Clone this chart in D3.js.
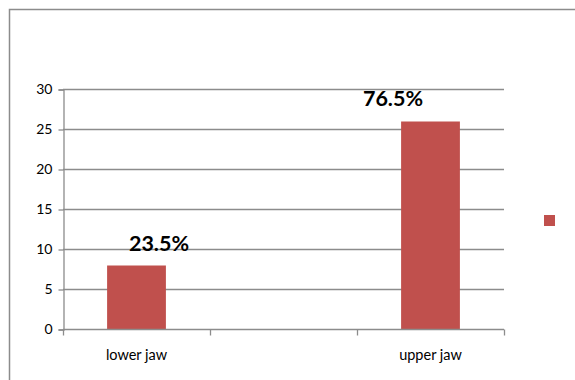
<!DOCTYPE html>
<html><head><meta charset="utf-8">
<script src="https://cdn.jsdelivr.net/npm/d3@7"></script>
<style>body{margin:0;background:#fff}svg{display:block}</style>
</head><body>
<svg id="c" width="575" height="380"></svg>
<script>
const categories = ["lower jaw", "", "upper jaw"];
const values = [8, null, 26];
const labels = ["23.5%", "", "76.5%"];
const yTicks = [0, 5, 10, 15, 20, 25, 30];

const svg = d3.select("#c");
const font = "Lato, 'Open Sans', sans-serif";
const grid = "#8c8c8c";
const barColor = "#C0504D";

// outer border
svg.append("rect").attr("x", 9.5).attr("y", 9.5).attr("width", 600).attr("height", 400)
  .attr("fill", "none").attr("stroke", grid).attr("stroke-width", 1.5);

const x = d3.scaleBand().domain(d3.range(categories.length)).range([63, 504]).paddingInner(0).paddingOuter(0);
const y = d3.scaleLinear().domain([0, 30]).range([329.5, 89.5]);

// gridlines
svg.append("g").selectAll("line").data(yTicks.filter(d => d > 0)).join("line")
  .attr("x1", 63).attr("x2", 504).attr("y1", d => y(d)).attr("y2", d => y(d))
  .attr("stroke", grid).attr("stroke-width", 1.3);

// y axis
const ya = svg.append("g").attr("transform", "translate(63.5,0)")
  .call(d3.axisLeft(y).tickValues(yTicks).tickSize(5).tickPadding(6).tickFormat(d3.format("d")));
ya.select(".domain").attr("stroke", grid).attr("stroke-width", 1.3);
ya.selectAll(".tick line").attr("stroke", grid).attr("stroke-width", 1.3);
ya.selectAll("text").attr("font-family", font).attr("font-size", 14).attr("fill", "#000");

// bars
const bw = x.bandwidth() * 0.4;
svg.append("g").selectAll("rect").data(values.map((v, i) => ({v, i})).filter(d => d.v != null)).join("rect")
  .attr("x", d => x(d.i) + (x.bandwidth() - bw) / 2).attr("width", bw)
  .attr("y", d => y(d.v)).attr("height", d => y(0) - y(d.v))
  .attr("fill", barColor);

// x axis
const xa = svg.append("g").attr("transform", "translate(0,329.5)");
xa.append("line").attr("x1", 63).attr("x2", 504).attr("stroke", grid).attr("stroke-width", 1.3);
const bounds = d3.range(categories.length + 1).map(i => i < categories.length ? x(i) : x(i - 1) + x.bandwidth());
xa.selectAll(".tk").data(bounds).join("line").attr("class", "tk")
  .attr("x1", d => d + 0.5).attr("x2", d => d + 0.5).attr("y1", 0).attr("y2", 6)
  .attr("stroke", grid).attr("stroke-width", 1.3);
xa.selectAll("text").data(categories.map((c, i) => ({c, i}))).join("text")
  .attr("x", d => x(d.i) + x.bandwidth() / 2).attr("y", 30)
  .attr("text-anchor", "middle").attr("font-family", font).attr("font-size", 14.5).attr("fill", "#000")
  .text(d => d.c);

// data labels
const offsets = [22.5, 0, -37.5];
const lift = [15, 0, 16];
svg.append("g").selectAll("text").data(values.map((v, i) => ({v, i})).filter(d => d.v != null)).join("text")
  .attr("x", d => x(d.i) + x.bandwidth() / 2 + offsets[d.i])
  .attr("y", d => y(d.v) - lift[d.i])
  .attr("text-anchor", "middle").attr("font-family", font).attr("font-weight", "bold")
  .attr("font-size", 21.5).attr("fill", "#000")
  .text(d => labels[d.i]);

// legend marker
svg.append("rect").attr("x", 544).attr("y", 215).attr("width", 11).attr("height", 11).attr("fill", barColor);
</script>
</body></html>
